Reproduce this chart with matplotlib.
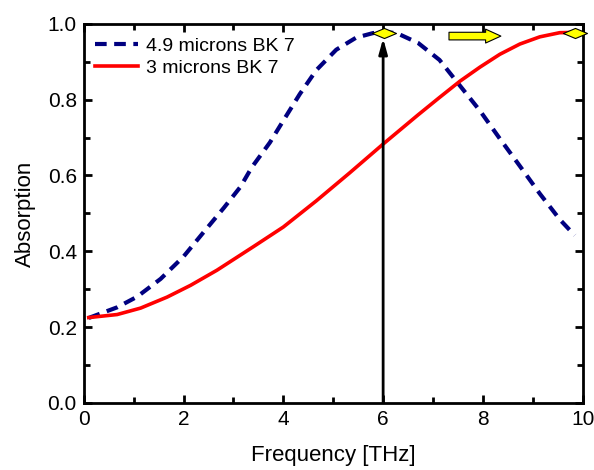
import numpy as np
import matplotlib
matplotlib.use("Agg")
import matplotlib.pyplot as plt
from matplotlib.ticker import MultipleLocator, FormatStrFormatter

plt.rcParams["font.family"] = ["Liberation Sans", "DejaVu Sans"]

# Absorption curves
freq_blue = [0.1, 0.67, 1.07, 1.54, 2.0, 2.4, 2.81, 3.14, 3.37, 3.73, 4.0, 4.33, 4.66,
             5.06, 5.46, 5.8, 6.05, 6.27, 6.7, 7.13, 7.54, 7.94, 8.34, 8.74, 9.14, 9.54, 9.84]
abs_blue = [0.224, 0.252, 0.28, 0.327, 0.386, 0.45, 0.515, 0.57, 0.622, 0.687, 0.745, 0.815, 0.878,
            0.932, 0.964, 0.976, 0.978, 0.976, 0.95, 0.905, 0.837, 0.771, 0.697, 0.625, 0.552, 0.484, 0.442]

freq_red = [0.1, 0.67, 1.14, 1.67, 2.14, 2.67, 3.14, 3.41, 4.0, 4.66, 5.33, 6.0,
            6.7, 7.13, 7.54, 7.94, 8.34, 8.74, 9.14, 9.54, 9.94]
abs_red = [0.225, 0.233, 0.25, 0.279, 0.31, 0.35, 0.39, 0.413, 0.464, 0.533, 0.607, 0.683,
           0.76, 0.806, 0.849, 0.886, 0.92, 0.947, 0.966, 0.977, 0.978]

labels = ["4.9 microns BK 7", "3 microns BK 7"]

# peak markers
peak_x = [6.01, 9.85]
peak_y = [0.976, 0.976]

fig = plt.figure(figsize=(5.94, 4.70), dpi=100)
ax = fig.add_axes([0.141, 0.143, 0.84, 0.806])

ax.plot(freq_blue, abs_blue, color="#000080", lw=3, ls=(0, (2.8, 1.8)), label=labels[0])
ax.plot(freq_red, abs_red, color="#ff0000", lw=2.6, label=labels[1])

# vertical arrow at 6 THz
ax.annotate("", xy=(6.0, 0.962), xytext=(6.0, 0.0),
            arrowprops=dict(arrowstyle="-|>,head_width=0.25,head_length=0.9",
                            lw=2, color="black", shrinkA=0, shrinkB=0))

# yellow arrow pointing right
ax.annotate("", xy=(8.36, 0.968), xytext=(7.32, 0.968),
            arrowprops=dict(arrowstyle="simple,head_width=1.0,head_length=1.1,tail_width=0.55",
                            fc="#ffff00", ec="black", lw=0.8, shrinkA=0, shrinkB=0,
                            mutation_scale=10))

diamond = [(-1, 0), (0, 0.42), (1, 0), (0, -0.42), (-1, 0)]
ax.scatter(peak_x, peak_y, marker=diamond, s=300, c="#ffff00", edgecolors="black",
           linewidths=0.8, zorder=5, clip_on=False)

ax.set_xlim(0, 10)
ax.set_ylim(0, 1.0)
ax.xaxis.set_major_locator(MultipleLocator(2))
ax.xaxis.set_minor_locator(MultipleLocator(1))
ax.yaxis.set_major_locator(MultipleLocator(0.2))
ax.yaxis.set_minor_locator(MultipleLocator(0.1))
ax.yaxis.set_major_formatter(FormatStrFormatter("%.1f"))
ax.tick_params(which="both", direction="in", top=True, right=True, width=2, labelsize=15)
ax.tick_params(which="major", length=6, pad=5)
ax.tick_params(which="minor", length=4)
for s in ax.spines.values():
    s.set_linewidth(2)

ax.set_xlabel("Frequency [THz]", fontsize=16, labelpad=12)
ax.set_ylabel("Absorption", fontsize=16, labelpad=8)

ax.legend(loc="upper left", frameon=False, fontsize=14, handlelength=2.2,
          borderaxespad=0, borderpad=0, handletextpad=0.45, labelspacing=0.22,
          bbox_to_anchor=(0.022, 0.965))

fig.savefig("out.png", dpi=100)
